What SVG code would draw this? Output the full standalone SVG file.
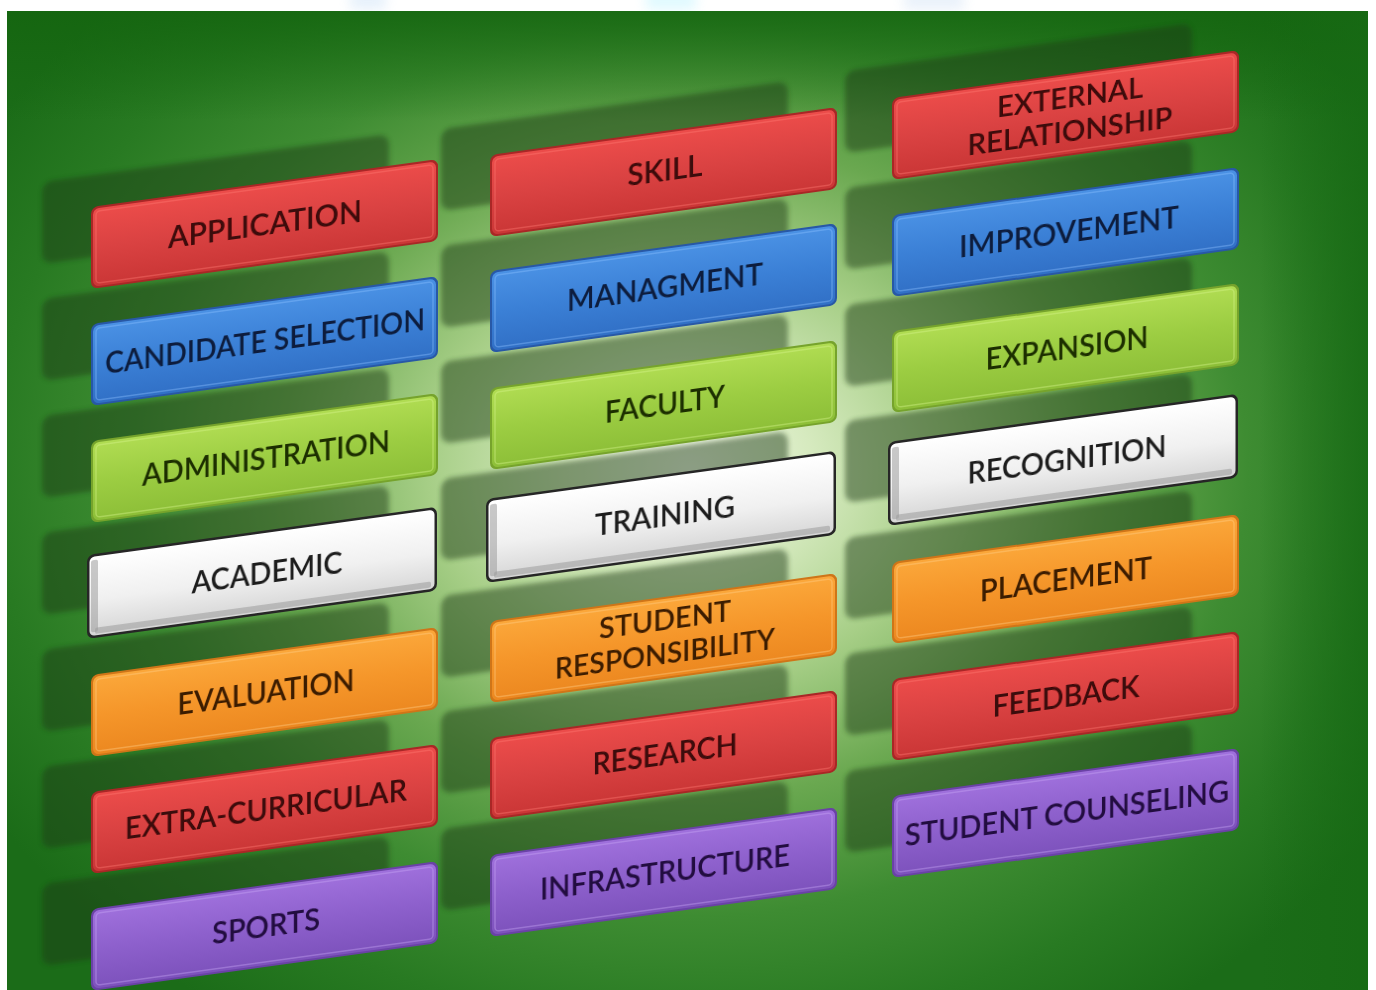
<svg xmlns="http://www.w3.org/2000/svg" width="1376" height="990" viewBox="0 0 1376 990">
  <defs>
    <radialGradient id="bgGlow" gradientUnits="userSpaceOnUse" cx="690" cy="470" r="820" gradientTransform="translate(690 470) scale(1 0.8) translate(-690 -470)">
      <stop offset="0" stop-color="#f4f9ea"/>
      <stop offset="0.15" stop-color="#d6eabf"/>
      <stop offset="0.32" stop-color="#a6ce86"/>
      <stop offset="0.5" stop-color="#6aa850"/>
      <stop offset="0.68" stop-color="#3e8c32"/>
      <stop offset="0.85" stop-color="#287a22"/>
      <stop offset="1" stop-color="#1b6c18"/>
    </radialGradient>
    <linearGradient id="topShade" x1="0" y1="0" x2="0" y2="1">
      <stop offset="0" stop-color="#14650f" stop-opacity="0.85"/>
      <stop offset="1" stop-color="#14650f" stop-opacity="0"/>
    </linearGradient>
    <linearGradient id="rightShade" x1="0" y1="0" x2="1" y2="0">
      <stop offset="0" stop-color="#176a14" stop-opacity="0"/>
      <stop offset="1" stop-color="#176a14" stop-opacity="0.8"/>
    </linearGradient>
    <linearGradient id="gRed" x1="0" y1="0" x2="0" y2="1">
      <stop offset="0" stop-color="#ec4c4a"/>
      <stop offset="0.5" stop-color="#da4242"/>
      <stop offset="1" stop-color="#ca3636"/>
    </linearGradient>
    <linearGradient id="gBlue" x1="0" y1="0" x2="0" y2="1">
      <stop offset="0" stop-color="#4a91e4"/>
      <stop offset="0.5" stop-color="#3b80d6"/>
      <stop offset="1" stop-color="#3170c6"/>
    </linearGradient>
    <linearGradient id="gGreen" x1="0" y1="0" x2="0" y2="1">
      <stop offset="0" stop-color="#b0dc52"/>
      <stop offset="0.5" stop-color="#9ccd42"/>
      <stop offset="1" stop-color="#8dbf38"/>
    </linearGradient>
    <linearGradient id="gOrange" x1="0" y1="0" x2="0" y2="1">
      <stop offset="0" stop-color="#fba73a"/>
      <stop offset="0.5" stop-color="#f5962a"/>
      <stop offset="1" stop-color="#ec8820"/>
    </linearGradient>
    <linearGradient id="gPurple" x1="0" y1="0" x2="0" y2="1">
      <stop offset="0" stop-color="#9f70dc"/>
      <stop offset="0.5" stop-color="#8d60cc"/>
      <stop offset="1" stop-color="#7d52bc"/>
    </linearGradient>
    <linearGradient id="gWhite" x1="0" y1="0" x2="0" y2="1">
      <stop offset="0" stop-color="#ffffff"/>
      <stop offset="0.55" stop-color="#f0f0f0"/>
      <stop offset="1" stop-color="#d6d6d6"/>
    </linearGradient>
    <filter id="soft" x="-10%" y="-20%" width="120%" height="140%">
      <feGaussianBlur stdDeviation="2.5"/>
    </filter>
    <filter id="haze" x="-50%" y="-50%" width="200%" height="200%">
      <feGaussianBlur stdDeviation="6"/>
    </filter>
    <filter id="ink" x="-5%" y="-20%" width="110%" height="140%">
      <feGaussianBlur stdDeviation="0.4"/>
    </filter>
  </defs>

  <style>
    .shadow { fill: #1e3a17; opacity: 0.48; filter: url(#soft); }
    .rim { fill: none; stroke-width: 1.5; stroke-opacity: 0.4; }
    .label { font-family: Lato, "Liberation Sans", sans-serif; font-size: 30px; font-weight: 600; text-anchor: middle; filter: url(#ink); }
    .two .label { font-size: 28px; }
    .red .edge { fill: #a92726; } .red .face { fill: url(#gRed); } .red .rim { stroke: #ff7a74; } .red .label { fill: #3a0707; }
    .blue .edge { fill: #2858a6; } .blue .face { fill: url(#gBlue); } .blue .rim { stroke: #8cc0ff; } .blue .label { fill: #0b1d3c; }
    .green .edge { fill: #76a32c; } .green .face { fill: url(#gGreen); } .green .rim { stroke: #d8f58e; } .green .label { fill: #1b2e06; }
    .orange .edge { fill: #cf7518; } .orange .face { fill: url(#gOrange); } .orange .rim { stroke: #ffd08a; } .orange .label { fill: #3a1a02; }
    .purple .edge { fill: #6a42a6; } .purple .face { fill: url(#gPurple); } .purple .rim { stroke: #c8a8f4; } .purple .label { fill: #230b40; }
    .white .edge { fill: #262626; } .white .face { fill: url(#gWhite); } .white .rim { stroke: #ffffff; } .white .label { fill: #1f1f1f; }
    .bevel { fill: #9c9c9c; opacity: 0.55; }
  </style>

  <!-- page and green board -->
  <g id="background">
    <rect width="1376" height="990" fill="#ffffff"/>
    <g filter="url(#haze)" opacity="0.35">
      <rect x="350" y="-10" width="36" height="20" fill="#bcd8f4"/>
      <rect x="646" y="-10" width="50" height="20" fill="#a8f0ff"/>
      <rect x="904" y="-10" width="60" height="20" fill="#c4daf2"/>
    </g>
    <rect x="7" y="11" width="1361" height="979" fill="url(#bgGlow)"/>
    <rect x="7" y="11" width="1361" height="110" fill="url(#topShade)"/>
    <rect x="1260" y="11" width="108" height="979" fill="url(#rightShade)"/>
  </g>

  <!-- cast shadows behind the tiles -->
  <g id="tile-shadows">
    <rect class="shadow" width="347" height="82" rx="10" transform="matrix(1,-0.138,0,1,42,182)"/>
    <rect class="shadow" width="347" height="82" rx="10" transform="matrix(1,-0.138,0,1,42,299)"/>
    <rect class="shadow" width="347" height="82" rx="10" transform="matrix(1,-0.138,0,1,42,416)"/>
    <rect class="shadow" width="347" height="82" rx="10" transform="matrix(1,-0.138,0,1,42,533)"/>
    <rect class="shadow" width="347" height="82" rx="10" transform="matrix(1,-0.138,0,1,42,650)"/>
    <rect class="shadow" width="347" height="82" rx="10" transform="matrix(1,-0.138,0,1,42,767)"/>
    <rect class="shadow" width="347" height="82" rx="10" transform="matrix(1,-0.138,0,1,42,884)"/>

    <rect class="shadow" width="347" height="82" rx="10" transform="matrix(1,-0.138,0,1,441,129)"/>
    <rect class="shadow" width="347" height="82" rx="10" transform="matrix(1,-0.138,0,1,441,246)"/>
    <rect class="shadow" width="347" height="82" rx="10" transform="matrix(1,-0.138,0,1,441,362)"/>
    <rect class="shadow" width="347" height="82" rx="10" transform="matrix(1,-0.138,0,1,441,479)"/>
    <rect class="shadow" width="347" height="82" rx="10" transform="matrix(1,-0.138,0,1,441,596)"/>
    <rect class="shadow" width="347" height="82" rx="10" transform="matrix(1,-0.138,0,1,441,712)"/>
    <rect class="shadow" width="347" height="82" rx="10" transform="matrix(1,-0.138,0,1,441,829)"/>

    <rect class="shadow" width="347" height="82" rx="10" transform="matrix(1,-0.138,0,1,845,71)"/>
    <rect class="shadow" width="347" height="82" rx="10" transform="matrix(1,-0.138,0,1,845,188)"/>
    <rect class="shadow" width="347" height="82" rx="10" transform="matrix(1,-0.138,0,1,845,305)"/>
    <rect class="shadow" width="347" height="82" rx="10" transform="matrix(1,-0.138,0,1,845,421)"/>
    <rect class="shadow" width="347" height="82" rx="10" transform="matrix(1,-0.138,0,1,845,538)"/>
    <rect class="shadow" width="347" height="82" rx="10" transform="matrix(1,-0.138,0,1,845,654)"/>
    <rect class="shadow" width="347" height="82" rx="10" transform="matrix(1,-0.138,0,1,845,771)"/>
  </g>

  <g id="connectors"/>

  <!-- left column -->
  <g id="application" class="tile red" transform="matrix(1,-0.138,0,1,91,207)">
    <rect class="edge" width="347" height="82" rx="7"/>
    <rect class="face" x="2" y="2" width="343" height="78" rx="6"/>
    <rect class="rim" x="5" y="5" width="337" height="72" rx="4"/>
    <text class="label" x="174" y="52" textLength="194" lengthAdjust="spacingAndGlyphs">APPLICATION</text>
  </g>
  <g id="candidate-selection" class="tile blue" transform="matrix(1,-0.138,0,1,91,324)">
    <rect class="edge" width="347" height="82" rx="7"/>
    <rect class="face" x="2" y="2" width="343" height="78" rx="6"/>
    <rect class="rim" x="5" y="5" width="337" height="72" rx="4"/>
    <text class="label" x="174" y="52" textLength="320" lengthAdjust="spacingAndGlyphs">CANDIDATE SELECTION</text>
  </g>
  <g id="administration" class="tile green" transform="matrix(1,-0.138,0,1,91,441)">
    <rect class="edge" width="347" height="82" rx="7"/>
    <rect class="face" x="2" y="2" width="343" height="78" rx="6"/>
    <rect class="rim" x="5" y="5" width="337" height="72" rx="4"/>
    <text class="label" x="175" y="52" textLength="248" lengthAdjust="spacingAndGlyphs">ADMINISTRATION</text>
  </g>
  <g id="academic" class="tile white" transform="matrix(1,-0.138,0,1,87,555)">
    <rect class="edge" width="350" height="84" rx="7"/>
    <rect class="face" x="2.5" y="2.5" width="345" height="79" rx="5"/>
    <rect class="bevel" x="4" y="6" width="7" height="72" rx="2"/>
    <rect class="bevel" x="8" y="74" width="336" height="6" rx="2" opacity="0.35"/>
    <text class="label" x="180" y="53" textLength="151" lengthAdjust="spacingAndGlyphs">ACADEMIC</text>
  </g>
  <g id="evaluation" class="tile orange" transform="matrix(1,-0.138,0,1,91,675)">
    <rect class="edge" width="347" height="82" rx="7"/>
    <rect class="face" x="2" y="2" width="343" height="78" rx="6"/>
    <rect class="rim" x="5" y="5" width="337" height="72" rx="4"/>
    <text class="label" x="175" y="52" textLength="177" lengthAdjust="spacingAndGlyphs">EVALUATION</text>
  </g>
  <g id="extra-curricular" class="tile red" transform="matrix(1,-0.138,0,1,91,792)">
    <rect class="edge" width="347" height="82" rx="7"/>
    <rect class="face" x="2" y="2" width="343" height="78" rx="6"/>
    <rect class="rim" x="5" y="5" width="337" height="72" rx="4"/>
    <text class="label" x="175" y="52" textLength="282" lengthAdjust="spacingAndGlyphs">EXTRA-CURRICULAR</text>
  </g>
  <g id="sports" class="tile purple" transform="matrix(1,-0.138,0,1,91,909)">
    <rect class="edge" width="347" height="82" rx="7"/>
    <rect class="face" x="2" y="2" width="343" height="78" rx="6"/>
    <rect class="rim" x="5" y="5" width="337" height="72" rx="4"/>
    <text class="label" x="175" y="52" textLength="108" lengthAdjust="spacingAndGlyphs">SPORTS</text>
  </g>

  <!-- middle column -->
  <g id="skill" class="tile red" transform="matrix(1,-0.138,0,1,490,155)">
    <rect class="edge" width="347" height="82" rx="7"/>
    <rect class="face" x="2" y="2" width="343" height="78" rx="6"/>
    <rect class="rim" x="5" y="5" width="337" height="72" rx="4"/>
    <text class="label" x="175" y="50" textLength="75" lengthAdjust="spacingAndGlyphs">SKILL</text>
  </g>
  <g id="managment" class="tile blue" transform="matrix(1,-0.138,0,1,490,271)">
    <rect class="edge" width="347" height="82" rx="7"/>
    <rect class="face" x="2" y="2" width="343" height="78" rx="6"/>
    <rect class="rim" x="5" y="5" width="337" height="72" rx="4"/>
    <text class="label" x="175" y="51" textLength="196" lengthAdjust="spacingAndGlyphs">MANAGMENT</text>
  </g>
  <g id="faculty" class="tile green" transform="matrix(1,-0.138,0,1,490,388)">
    <rect class="edge" width="347" height="82" rx="7"/>
    <rect class="face" x="2" y="2" width="343" height="78" rx="6"/>
    <rect class="rim" x="5" y="5" width="337" height="72" rx="4"/>
    <text class="label" x="175" y="51" textLength="120" lengthAdjust="spacingAndGlyphs">FACULTY</text>
  </g>
  <g id="training" class="tile white" transform="matrix(1,-0.138,0,1,486,499)">
    <rect class="edge" width="350" height="84" rx="7"/>
    <rect class="face" x="2.5" y="2.5" width="345" height="79" rx="5"/>
    <rect class="bevel" x="4" y="6" width="7" height="72" rx="2"/>
    <rect class="bevel" x="8" y="74" width="336" height="6" rx="2" opacity="0.35"/>
    <text class="label" x="179" y="52" textLength="140" lengthAdjust="spacingAndGlyphs">TRAINING</text>
  </g>
  <g id="student-responsibility" class="tile orange two" transform="matrix(1,-0.138,0,1,490,621)">
    <rect class="edge" width="347" height="82" rx="7"/>
    <rect class="face" x="2" y="2" width="343" height="78" rx="6"/>
    <rect class="rim" x="5" y="5" width="337" height="72" rx="4"/>
    <text class="label" x="175" y="33" textLength="132" lengthAdjust="spacingAndGlyphs">STUDENT</text>
    <text class="label" x="175" y="67" textLength="220" lengthAdjust="spacingAndGlyphs">RESPONSIBILITY</text>
  </g>
  <g id="research" class="tile red" transform="matrix(1,-0.138,0,1,490,738)">
    <rect class="edge" width="347" height="82" rx="7"/>
    <rect class="face" x="2" y="2" width="343" height="78" rx="6"/>
    <rect class="rim" x="5" y="5" width="337" height="72" rx="4"/>
    <text class="label" x="175" y="51" textLength="145" lengthAdjust="spacingAndGlyphs">RESEARCH</text>
  </g>
  <g id="infrastructure" class="tile purple" transform="matrix(1,-0.138,0,1,490,855)">
    <rect class="edge" width="347" height="82" rx="7"/>
    <rect class="face" x="2" y="2" width="343" height="78" rx="6"/>
    <rect class="rim" x="5" y="5" width="337" height="72" rx="4"/>
    <text class="label" x="175" y="52" textLength="250" lengthAdjust="spacingAndGlyphs">INFRASTRUCTURE</text>
  </g>

  <!-- right column -->
  <g id="external-relationship" class="tile red two" transform="matrix(1,-0.138,0,1,892,98)">
    <rect class="edge" width="347" height="82" rx="7"/>
    <rect class="face" x="2" y="2" width="343" height="78" rx="6"/>
    <rect class="rim" x="5" y="5" width="337" height="72" rx="4"/>
    <text class="label" x="178" y="34" textLength="146" lengthAdjust="spacingAndGlyphs">EXTERNAL</text>
    <text class="label" x="178" y="68" textLength="205" lengthAdjust="spacingAndGlyphs">RELATIONSHIP</text>
  </g>
  <g id="improvement" class="tile blue" transform="matrix(1,-0.138,0,1,892,215)">
    <rect class="edge" width="347" height="82" rx="7"/>
    <rect class="face" x="2" y="2" width="343" height="78" rx="6"/>
    <rect class="rim" x="5" y="5" width="337" height="72" rx="4"/>
    <text class="label" x="177" y="52" textLength="220" lengthAdjust="spacingAndGlyphs">IMPROVEMENT</text>
  </g>
  <g id="expansion" class="tile green" transform="matrix(1,-0.138,0,1,892,331)">
    <rect class="edge" width="347" height="82" rx="7"/>
    <rect class="face" x="2" y="2" width="343" height="78" rx="6"/>
    <rect class="rim" x="5" y="5" width="337" height="72" rx="4"/>
    <text class="label" x="175" y="52" textLength="163" lengthAdjust="spacingAndGlyphs">EXPANSION</text>
  </g>
  <g id="recognition" class="tile white" transform="matrix(1,-0.138,0,1,888,442)">
    <rect class="edge" width="350" height="84" rx="7"/>
    <rect class="face" x="2.5" y="2.5" width="345" height="79" rx="5"/>
    <rect class="bevel" x="4" y="6" width="7" height="72" rx="2"/>
    <rect class="bevel" x="8" y="74" width="336" height="6" rx="2" opacity="0.35"/>
    <text class="label" x="179" y="53" textLength="199" lengthAdjust="spacingAndGlyphs">RECOGNITION</text>
  </g>
  <g id="placement" class="tile orange" transform="matrix(1,-0.138,0,1,892,562)">
    <rect class="edge" width="347" height="82" rx="7"/>
    <rect class="face" x="2" y="2" width="343" height="78" rx="6"/>
    <rect class="rim" x="5" y="5" width="337" height="72" rx="4"/>
    <text class="label" x="174" y="52" textLength="172" lengthAdjust="spacingAndGlyphs">PLACEMENT</text>
  </g>
  <g id="feedback" class="tile red" transform="matrix(1,-0.138,0,1,892,679)">
    <rect class="edge" width="347" height="82" rx="7"/>
    <rect class="face" x="2" y="2" width="343" height="78" rx="6"/>
    <rect class="rim" x="5" y="5" width="337" height="72" rx="4"/>
    <text class="label" x="174" y="52" textLength="147" lengthAdjust="spacingAndGlyphs">FEEDBACK</text>
  </g>
  <g id="student-counseling" class="tile purple" transform="matrix(1,-0.138,0,1,892,796)">
    <rect class="edge" width="347" height="82" rx="7"/>
    <rect class="face" x="2" y="2" width="343" height="78" rx="6"/>
    <rect class="rim" x="5" y="5" width="337" height="72" rx="4"/>
    <text class="label" x="175" y="52" textLength="324" lengthAdjust="spacingAndGlyphs">STUDENT COUNSELING</text>
  </g>
</svg>
